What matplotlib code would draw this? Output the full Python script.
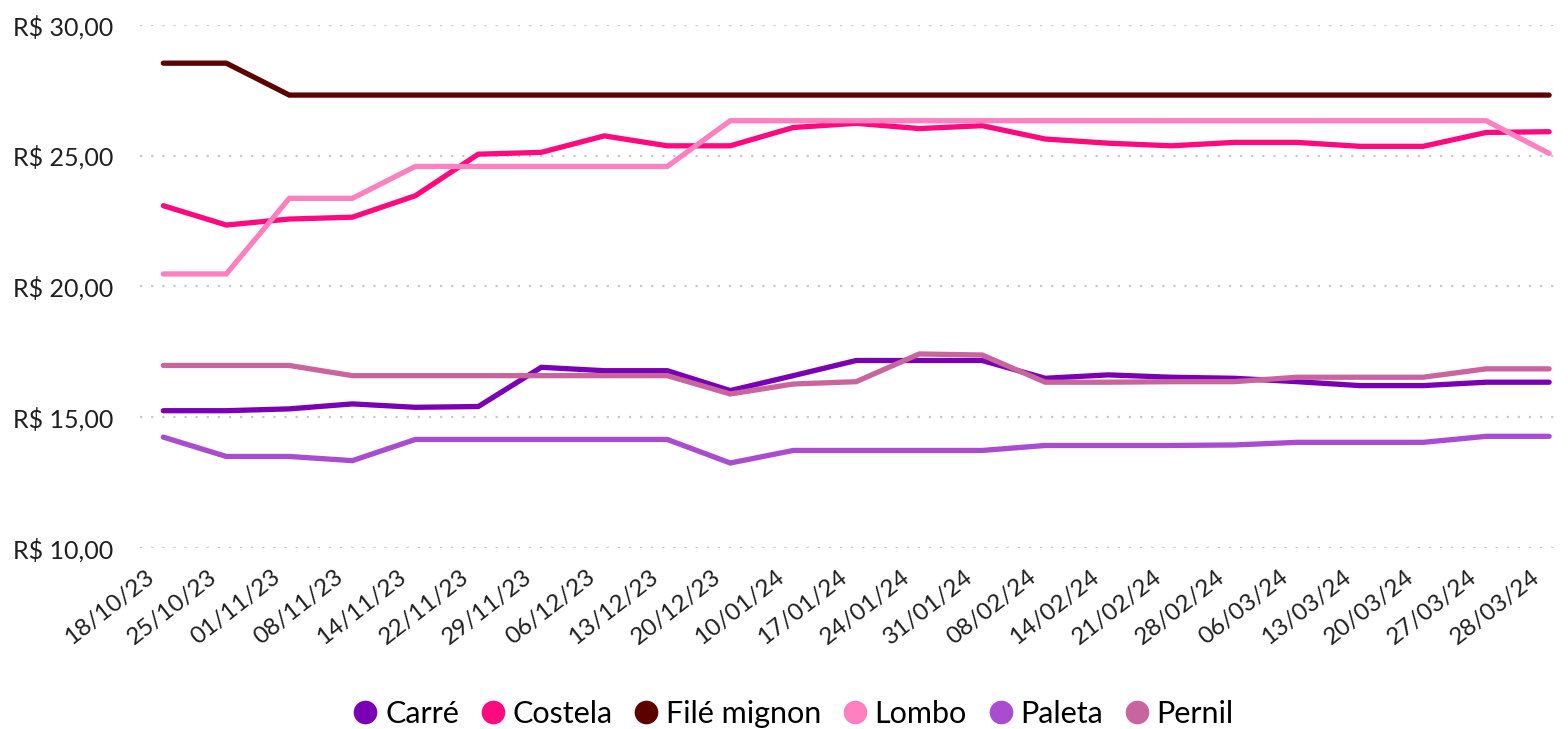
import matplotlib
matplotlib.use("Agg")
import matplotlib.pyplot as plt
from matplotlib.lines import Line2D
from matplotlib.transforms import ScaledTranslation

dates = ["18/10/23", "25/10/23", "01/11/23", "08/11/23", "14/11/23", "22/11/23",
         "29/11/23", "06/12/23", "13/12/23", "20/12/23", "10/01/24", "17/01/24",
         "24/01/24", "31/01/24", "08/02/24", "14/02/24", "21/02/24", "28/02/24",
         "06/03/24", "13/03/24", "20/03/24", "27/03/24", "28/03/24"]

carre = [15.25, 15.25, 15.32, 15.51, 15.38, 15.41, 16.91, 16.78, 16.78, 16.02, 16.59, 17.17,
         17.17, 17.17, 16.49, 16.62, 16.53, 16.49, 16.36, 16.21, 16.21, 16.34, 16.34]
costela = [23.09, 22.35, 22.58, 22.65, 23.47, 25.06, 25.13, 25.76, 25.38, 25.38, 26.08, 26.24,
           26.04, 26.15, 25.64, 25.48, 25.38, 25.51, 25.51, 25.36, 25.36, 25.89, 25.92]
file_mignon = [28.54, 28.54, 27.32, 27.32, 27.32, 27.32, 27.32, 27.32, 27.32, 27.32, 27.32, 27.32,
               27.32, 27.32, 27.32, 27.32, 27.32, 27.32, 27.32, 27.32, 27.32, 27.32, 27.32]
lombo = [20.48, 20.48, 23.37, 23.37, 24.59, 24.59, 24.59, 24.59, 24.59, 26.34, 26.34, 26.34,
         26.34, 26.34, 26.34, 26.34, 26.34, 26.34, 26.34, 26.34, 26.34, 26.34, 25.09]
paleta = [14.24, 13.50, 13.50, 13.34, 14.15, 14.15, 14.15, 14.15, 14.15, 13.25, 13.73, 13.73,
          13.73, 13.73, 13.92, 13.92, 13.92, 13.94, 14.04, 14.04, 14.04, 14.27, 14.27]
pernil = [16.98, 16.98, 16.98, 16.59, 16.59, 16.59, 16.59, 16.59, 16.59, 15.89, 16.27, 16.36,
          17.42, 17.38, 16.34, 16.34, 16.36, 16.36, 16.53, 16.53, 16.53, 16.85, 16.85]

series_names = ["Carré", "Costela", "Filé mignon", "Lombo", "Paleta", "Pernil"]
series_values = [carre, costela, file_mignon, lombo, paleta, pernil]
colors = ["#7A00B5", "#FF0A7E", "#5C0000", "#FF80C0", "#A94CCF", "#C8659F"]
yticks = [10, 15, 20, 25, 30]
ytick_labels = ["R$ 10,00", "R$ 15,00", "R$ 20,00", "R$ 25,00", "R$ 30,00"]

plt.rcParams['font.family'] = ['Lato', 'DejaVu Sans']
text_color = "#1F1F1F"

fig = plt.figure(figsize=(15.68, 7.29), dpi=100)
ax = fig.add_axes([0.0893, 0.2483, 0.9067, 0.7174])

x = list(range(len(dates)))
for name, vals, c in zip(series_names, series_values, colors):
    ax.plot(x, vals, color=c, lw=3.8, solid_capstyle='round', solid_joinstyle='miter', zorder=3)

ax.set_ylim(10, 30)
ax.set_xlim(-0.37, len(dates) - 1 + 0.2)
ax.set_yticks(yticks)
ax.set_yticklabels(ytick_labels, fontsize=18, color=text_color)
ax.set_xticks(x)
ax.tick_params(axis='both', length=0)
ax.tick_params(axis='y', pad=19)
ax.tick_params(axis='x', pad=13)
ax.set_xticklabels(dates, rotation=38, ha='right', va='top', rotation_mode='anchor',
                   fontsize=17.5, color=text_color)
shift = ScaledTranslation(-18 / 100, 0, fig.dpi_scale_trans)
for lab in ax.get_xticklabels():
    lab.set_transform(lab.get_transform() + shift)
for s in ax.spines.values():
    s.set_visible(False)
ax.grid(axis='y', color="#C8C8C8", linestyle=(0, (1, 4)), lw=1.6, zorder=0)
ax.grid(axis='x', visible=False)

handles = [Line2D([0], [0], marker='o', linestyle='none', markersize=16,
                  markerfacecolor=c, markeredgecolor=c) for c in colors]
fig.legend(handles, series_names, loc='center', bbox_to_anchor=(0.506, 0.021),
           ncol=6, frameon=False, fontsize=22, handletextpad=0.25,
           columnspacing=0.7, handlelength=0.8, labelcolor='black',
           borderpad=0, borderaxespad=0)

fig.savefig("out.png", dpi=100)
